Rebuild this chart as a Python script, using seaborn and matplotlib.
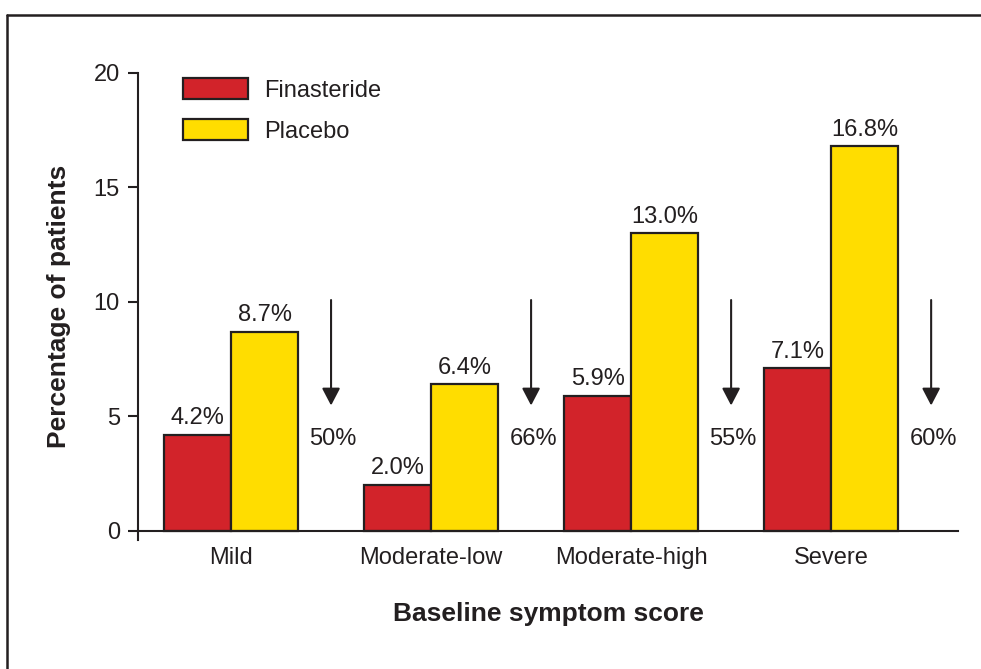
import seaborn as sns
import matplotlib.pyplot as plt
import pandas as pd
from matplotlib.lines import Line2D

categories = ["Mild", "Moderate-low", "Moderate-high", "Severe"]
finasteride = [4.2, 2.0, 5.9, 7.1]
placebo = [8.7, 6.4, 13.0, 16.8]
reduction = ["50%", "66%", "55%", "60%"]

if __name__ == '__main__':
    sns.set_style("white")
    plt.rcParams['font.family'] = ['Liberation Sans', 'DejaVu Sans']

    df = pd.DataFrame({
        "score": categories * 2,
        "value": finasteride + placebo,
        "group": ["Finasteride"] * 4 + ["Placebo"] * 4,
    })

    fig = plt.figure(figsize=(9.81, 6.69), dpi=100)
    ax = fig.add_axes([0.1407, 0.193, 0.836, 0.698])

    sns.barplot(data=df, x="score", y="value", hue="group", order=categories,
                palette={"Finasteride": "#D2232A", "Placebo": "#FFDD00"},
                saturation=1, width=0.67, edgecolor="#231F20", linewidth=1.6, ax=ax)

    for c in ax.containers:
        ax.bar_label(c, fmt="%.1f%%", padding=4, fontsize=17, color="#231F20")

    # arrows + relative reduction
    for i, r in enumerate(reduction):
        ax.annotate("", xy=(i + 0.5, 5.35), xytext=(i + 0.5, 10.2),
                    arrowprops=dict(arrowstyle="-|>,head_length=1.05,head_width=0.55",
                                    color="#231F20", lw=1.5))
        ax.text(i + 0.51, 4.0, r, ha="center", va="center", fontsize=17, color="#231F20")

    ax.set_xlim(-0.465, 3.635)
    ax.set_ylim(-0.4, 20)
    ax.set_yticks([0, 5, 10, 15, 20])
    ax.spines["top"].set_visible(False)
    ax.spines["right"].set_visible(False)
    ax.spines["bottom"].set_position(("data", 0))
    for s in ["left", "bottom"]:
        ax.spines[s].set_linewidth(1.5)
        ax.spines[s].set_color("#231F20")
    ax.tick_params(axis="y", left=True, length=7, width=1.5, color="#231F20",
                   labelsize=17, labelcolor="#231F20", pad=6)
    ax.tick_params(axis="x", bottom=False, labelsize=17, labelcolor="#231F20", pad=8)

    ax.set_ylabel("Percentage of patients", fontsize=19, fontweight="bold",
                  color="#231F20", labelpad=16)
    ax.set_xlabel("Baseline symptom score", fontsize=19, fontweight="bold",
                  color="#231F20", labelpad=24)

    leg = ax.legend(loc="upper left", bbox_to_anchor=(0.055, 0.99), frameon=False,
                    fontsize=17, handlelength=2.75, handleheight=1.05,
                    labelspacing=0.72, handletextpad=0.7, borderpad=0, borderaxespad=0)
    for t in leg.get_texts():
        t.set_color("#231F20")

    # frame lines (top + left)
    fig.add_artist(Line2D([7 / 981, 1], [1 - 15 / 669, 1 - 15 / 669],
                          transform=fig.transFigure, color="#231F20", lw=1.8))
    fig.add_artist(Line2D([7 / 981, 7 / 981], [0, 1 - 15 / 669],
                          transform=fig.transFigure, color="#231F20", lw=1.8))

    plt.savefig("out.png", dpi=100)
